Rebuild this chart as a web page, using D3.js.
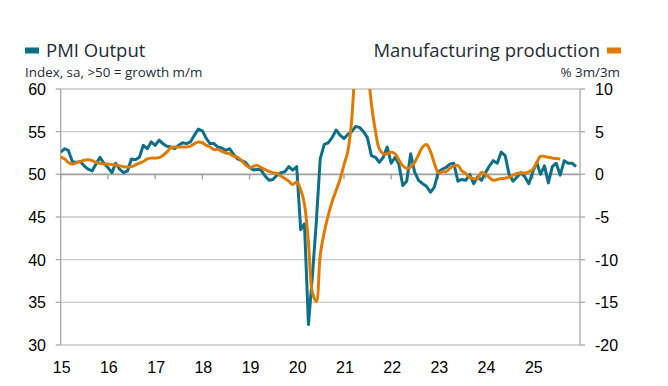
<!DOCTYPE html>
<html>
<head>
<meta charset="utf-8">
<script src="https://cdn.jsdelivr.net/npm/d3@7"></script>
<style>
    body { margin: 0; background: #fff; }
    .legend-text { font-family: "Open Sans", "Noto Sans", sans-serif; fill: #1f2b38; }
    .tick-label { font-family: "Liberation Sans", Arial, sans-serif; font-size: 16px; fill: #000; }
</style>
</head>
<body>
<script>

// Year tick labels (first month of each year from Jan 2015)
var yearLabels = ["15", "16", "17", "18", "19", "20", "21", "22", "23", "24", "25"];
var leftTicks = [30, 35, 40, 45, 50, 55, 60];
var rightTicks = [-20, -15, -10, -5, 0, 5, 10];

// PMI Output, index (monthly, Jan 2015 - Dec 2025)
var pmiOutput = [
    52.6, 53.0, 52.8, 51.5, 51.4, 51.5, 51.0, 50.6, 50.4, 51.2, 52.0, 51.3,
    50.8, 50.2, 51.3, 50.6, 50.2, 50.4, 51.8, 51.7, 52.0, 53.4, 53.0, 53.8,
    53.4, 54.0, 53.6, 53.3, 53.2, 53.0, 53.4, 53.7, 53.6, 53.8, 54.6, 55.3,
    55.1, 54.2, 53.6, 53.6, 53.2, 53.1, 52.8, 53.0, 52.3, 51.8, 51.6, 51.4,
    50.8, 50.5, 50.6, 50.5, 49.8, 49.3, 49.4, 49.9, 50.2, 50.3, 50.9, 50.5,
    50.9, 43.5, 44.2, 32.4, 38.0, 44.5, 51.8, 53.5, 53.7, 54.3, 55.2, 54.6,
    54.2, 54.7, 55.0, 55.6, 55.5, 55.0, 54.3, 52.2, 52.0, 51.4, 52.0, 53.2,
    51.3, 52.0, 51.2, 48.7, 49.2, 52.4, 50.3, 49.3, 48.9, 48.6, 47.9, 48.5,
    50.3, 50.6, 50.8, 51.2, 51.3, 49.2, 49.4, 49.3, 50.0, 48.9, 49.7, 49.3,
    50.2, 51.0, 51.6, 51.3, 52.6, 52.2, 50.0, 49.2, 49.7, 50.2, 49.7, 48.9,
    50.3, 51.4, 50.0, 51.0, 49.0, 50.9, 51.3, 49.9, 51.6, 51.3, 51.3, 50.9
];

// Manufacturing production, % 3m/3m (monthly, Jan 2015 - Aug 2025)
var mfgProduction = [
    2.0, 1.8, 1.4, 1.2, 1.35, 1.5, 1.65, 1.7, 1.6, 1.4, 1.3, 1.2,
    1.2, 1.15, 1.1, 1.0, 0.9, 0.85, 0.9, 1.1, 1.3, 1.5, 1.8, 1.9,
    1.9, 1.95, 2.2, 2.6, 3.1, 3.2, 3.2, 3.2, 3.2, 3.3, 3.6, 3.8,
    3.7, 3.4, 3.2, 2.9, 2.9, 2.7, 2.5, 2.4, 2.1, 2.0, 1.6, 1.1,
    0.8, 0.95, 1.05, 0.8, 0.55, 0.35, 0.2, 0.1, -0.2, -0.5, -0.8, -1.2,
    -0.9, -1.8, -3.5, -8.0, -13.8, -14.9, -9.5, -6.8, -4.8, -3.2, -1.9, -0.6,
    1.1, 2.8, 6.3, 14.0, 20.0, 19.0, 13.0, 8.3, 5.1, 3.0, 2.4, 2.4,
    2.6, 2.4, 1.7, 1.0, 0.7, 0.85, 1.4, 2.3, 3.2, 3.5, 2.7, 1.3,
    0.2, 0.3, 0.3, 0.7, 1.0, 1.05, 0.4, 0.1, -0.35, -0.5, -0.5, 0.25,
    0.0, -0.4, -0.7, -0.6, -0.5, -0.45, -0.35, -0.1, 0.1, 0.15, 0.15, 0.3,
    0.6, 1.4, 2.1, 2.1, 2.0, 1.9, 1.85, 1.8
];

var tealColor = "#0d6f88";
var orangeColor = "#e17b00";

function drawChart() {

    var width = 668, height = 386;
    var left = 60.7, right = 580, top = 89, bottom = 345;

    var svg = d3.select("body").append("svg")
        .attr("width", width)
        .attr("height", height);

    var x = d3.scaleTime()
        .domain([new Date(2015, 0, 1), new Date(2026, 0, 1)])
        .range([left, right]);
    var yLeft = d3.scaleLinear().domain([30, 60]).range([bottom, top]);
    var yRight = d3.scaleLinear().domain([-20, 10]).range([bottom, top]);

    var monthDate = function (i) { return new Date(2015, i, 1); };
    var yearDates = yearLabels.map(function (d, i) { return new Date(2015 + i, 0, 1); });

    // gridlines
    svg.append("g").selectAll("line")
        .data(leftTicks.filter(function (d) { return d != 50; }))
        .enter().append("line")
        .attr("x1", left).attr("x2", right)
        .attr("y1", function (d) { return yLeft(d); })
        .attr("y2", function (d) { return yLeft(d); })
        .style("stroke", "#c8c8c8")
        .style("stroke-width", 1.3);

    // left and right axis lines + ticks
    svg.append("line")
        .attr("x1", left).attr("x2", left).attr("y1", top).attr("y2", bottom)
        .style("stroke", "#a8a8a8").style("stroke-width", 1.3);
    svg.append("line")
        .attr("x1", right).attr("x2", right).attr("y1", top).attr("y2", bottom)
        .style("stroke", "#a8a8a8").style("stroke-width", 1.3);

    svg.append("g").selectAll("line")
        .data(leftTicks)
        .enter().append("line")
        .attr("x1", left - 5).attr("x2", left)
        .attr("y1", function (d) { return yLeft(d); })
        .attr("y2", function (d) { return yLeft(d); })
        .style("stroke", "#a8a8a8").style("stroke-width", 1.3);
    svg.append("g").selectAll("line")
        .data(rightTicks)
        .enter().append("line")
        .attr("x1", right).attr("x2", right + 5)
        .attr("y1", function (d) { return yRight(d); })
        .attr("y2", function (d) { return yRight(d); })
        .style("stroke", "#a8a8a8").style("stroke-width", 1.3);

    // horizontal axis crosses at 50 / 0
    svg.append("line")
        .attr("x1", left).attr("x2", right)
        .attr("y1", yLeft(50)).attr("y2", yLeft(50))
        .style("stroke", "#a0a0a0").style("stroke-width", 1.6);
    svg.append("g").selectAll("line")
        .data(yearDates)
        .enter().append("line")
        .attr("x1", function (d) { return x(d); })
        .attr("x2", function (d) { return x(d); })
        .attr("y1", yLeft(50)).attr("y2", yLeft(50) + 5)
        .style("stroke", "#a0a0a0").style("stroke-width", 1.3);

    // tick labels
    svg.append("g").selectAll("text")
        .data(leftTicks)
        .enter().append("text")
        .attr("class", "tick-label")
        .attr("x", 46).attr("y", function (d) { return yLeft(d) + 6; })
        .attr("text-anchor", "end")
        .text(function (d) { return d; });
    svg.append("g").selectAll("text")
        .data(rightTicks)
        .enter().append("text")
        .attr("class", "tick-label")
        .attr("x", 595).attr("y", function (d) { return yRight(d) + 6; })
        .text(function (d) { return d; });
    svg.append("g").selectAll("text")
        .data(yearDates)
        .enter().append("text")
        .attr("class", "tick-label")
        .attr("x", function (d) { return x(d) + 1; })
        .attr("y", 373)
        .attr("text-anchor", "middle")
        .text(function (d, i) { return yearLabels[i]; });

    // lines, clipped to the plot area
    svg.append("clipPath").attr("id", "plot-clip")
        .append("rect")
        .attr("x", left).attr("y", top)
        .attr("width", right - left).attr("height", bottom - top);

    var pmiLine = d3.line()
        .x(function (d, i) { return x(monthDate(i)); })
        .y(function (d) { return yLeft(d); });
    var mfgLine = d3.line()
        .x(function (d, i) { return x(monthDate(i)); })
        .y(function (d) { return yRight(d); })
        .curve(d3.curveCatmullRom.alpha(0.5));

    var plot = svg.append("g").attr("clip-path", "url(#plot-clip)");
    plot.append("path")
        .datum(pmiOutput)
        .attr("d", pmiLine)
        .style("fill", "none")
        .style("stroke", tealColor)
        .style("stroke-width", 3)
        .style("stroke-linejoin", "round");
    plot.append("path")
        .datum(mfgProduction)
        .attr("d", mfgLine)
        .style("fill", "none")
        .style("stroke", orangeColor)
        .style("stroke-width", 3)
        .style("stroke-linejoin", "round");

    // legends
    svg.append("rect")
        .attr("x", 25).attr("y", 47.5).attr("width", 14).attr("height", 6)
        .style("fill", tealColor);
    svg.append("text").attr("class", "legend-text")
        .attr("x", 46).attr("y", 57)
        .style("font-size", "18.5px")
        .text("PMI Output");
    svg.append("text").attr("class", "legend-text")
        .attr("x", 25).attr("y", 77)
        .style("font-size", "13.4px")
        .text("Index, sa, >50 = growth m/m");

    svg.append("rect")
        .attr("x", 607).attr("y", 47.5).attr("width", 14).attr("height", 6)
        .style("fill", orangeColor);
    svg.append("text").attr("class", "legend-text")
        .attr("x", 600).attr("y", 57)
        .attr("text-anchor", "end")
        .style("font-size", "18.5px")
        .text("Manufacturing production");
    svg.append("text").attr("class", "legend-text")
        .attr("x", 620).attr("y", 77)
        .attr("text-anchor", "end")
        .style("font-size", "13.4px")
        .text("% 3m/3m");
}

drawChart();
</script>
</body>
</html>
